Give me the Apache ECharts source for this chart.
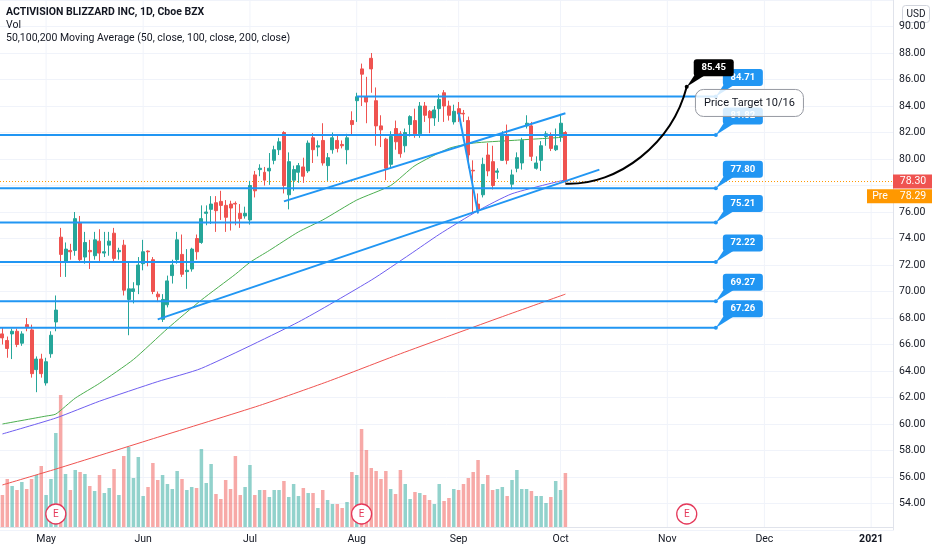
<!DOCTYPE html>
<html><head><meta charset="utf-8">
<script src="https://cdn.jsdelivr.net/npm/echarts@6/dist/echarts.min.js"></script>
<style>html,body{margin:0;padding:0;background:#fff}#c{width:932px;height:550px}</style>
</head><body><div id="c"></div>
<script>
// ---------- data ----------
const firstDay = '2020-04-20', lastDay = '2021-01-08';
const holidays = ['2020-05-25','2020-07-03','2020-09-07','2020-11-26','2020-12-25','2021-01-01'];
const tickDates = ['2020-05-01','2020-06-01','2020-07-01','2020-08-03','2020-09-01','2020-10-01','2020-11-02','2020-12-01','2021-01-04'];
const tickLabels = ['May','Jun','Jul','Aug','Sep','Oct','Nov','Dec','2021'];

// [open, close, low, high] from 2020-04-20 to 2020-10-02
const candles = [
[66.8,66.5,66.0,67.3],[66.3,65.7,65.0,66.6],[66.8,67.0,64.9,67.2],[67.0,66.0,65.8,67.2],[66.1,66.8,65.9,67.0],
[67.5,67.3,67.0,68.0],[67.1,63.8,63.5,67.5],[64.1,64.9,62.4,65.1],[64.9,63.8,63.5,65.3],[63.1,64.7,62.9,65.0],
[65.3,66.7,65.0,67.0],[67.7,68.6,67.0,69.7],[74.1,72.8,71.1,74.8],[72.2,73.2,71.1,73.7],[73.1,73.0,72.4,73.6],
[73.1,75.5,72.7,76.0],[75.2,72.4,72.2,75.7],[72.6,73.7,72.1,74.5],[73.1,73.0,71.7,73.9],[72.7,73.9,72.4,74.5],
[73.8,72.9,72.2,74.7],[72.9,73.0,72.6,74.5],[73.5,73.8,72.7,74.5],[74.4,72.5,72.3,74.8],[73.0,73.1,72.4,73.3],
[73.5,70.1,69.7,73.9],[69.4,70.2,66.7,72.2],[70.0,70.2,69.1,70.7],[70.5,72.0,69.8,72.6],[72.1,73.0,71.6,73.9],
[73.05,73.0,71.9,73.1],[72.4,70.0,69.8,72.6],[69.8,69.6,69.2,70.0],[67.9,69.4,67.7,69.8],[69.0,70.8,68.8,71.2],
[71.2,72.0,70.6,72.4],[72.4,73.9,72.1,74.5],[72.8,71.3,71.1,74.3],[71.5,71.6,70.2,73.2],[71.7,73.2,71.5,73.3],
[74.0,73.0,72.4,74.3],[73.7,75.5,73.6,76.5],[75.9,76.0,75.0,76.5],[76.2,76.6,75.1,77.2],[76.7,76.1,74.5,77.2],
[76.8,76.5,75.4,77.6],[76.5,75.6,74.5,76.9],[76.6,76.3,74.6,76.85],[76.65,76.6,75.0,76.8],[75.9,75.5,74.8,76.6],
[75.7,75.9,75.5,76.4],[75.4,78.0,75.05,78.35],[78.8,77.6,77.1,79.1],[79.2,79.3,78.7,79.6],[79.0,78.4,78.0,79.4],
[79.1,79.3,78.05,80.45],[79.9,80.7,79.6,81.0],[80.7,81.3,80.3,81.6],[82.0,78.0,77.4,82.1],[77.3,79.8,76.2,80.5],
[78.4,79.2,77.6,79.5],[79.0,79.5,78.2,79.7],[79.4,78.7,78.2,80.1],[79.1,81.2,78.95,81.4],[81.6,80.7,79.7,81.95],
[80.9,81.0,80.2,81.4],[81.4,79.7,79.5,82.7],[79.5,80.1,78.35,80.45],[80.7,81.6,80.4,82.0],[81.4,80.8,80.5,81.8],
[81.1,81.0,80.8,81.4],[80.7,81.6,79.6,81.9],[82.9,82.6,81.8,83.6],[84.4,84.7,82.8,85.0],[86.8,86.4,84.0,87.2],
[84.7,84.3,82.7,86.2],[87.6,86.8,85.0,88.0],[84.4,82.5,81.0,85.4],[82.5,82.2,80.9,83.3],[81.5,79.3,78.4,81.6],
[79.6,81.7,79.3,82.1],[82.3,81.3,80.7,82.9],[81.9,80.4,80.1,82.1],[81.0,82.0,80.5,82.3],[82.6,83.2,81.7,83.3],
[82.9,81.9,81.6,83.8],[81.9,84.0,81.6,84.3],[84.0,83.3,82.8,84.3],[83.6,83.1,81.95,83.7],[83.1,83.7,82.5,84.0],
[83.8,84.5,82.8,84.9],[85.0,84.0,82.8,85.2],[84.0,83.3,82.9,84.4],[82.8,83.6,82.6,84.1],[83.8,83.4,82.8,84.3],
[83.45,83.4,82.8,83.7],[82.9,80.3,79.3,83.2],[79.15,79.1,75.9,79.9],[76.6,76.2,75.9,77.4],[77.3,79.6,77.1,80.1],
[80.3,79.1,78.7,81.2],[79.8,78.0,77.7,81.0],[79.0,79.1,78.5,79.3],[79.9,81.8,79.85,82.1],[81.8,79.9,79.6,82.6],
[78.1,78.8,77.7,79.2],[79.3,80.1,79.0,80.5],[79.7,81.4,79.2,81.6],[82.5,82.7,82.3,83.3],[82.5,80.2,79.85,82.8],
[79.3,79.7,79.2,80.2],[79.9,81.0,79.1,81.35],[81.7,81.9,81.0,82.1],[81.8,80.8,80.6,82.0],[80.7,81.0,80.6,82.3],
[81.7,82.7,81.3,83.4],[82.0,78.3,78.2,82.1]
];
// volume in millions
const volumes = [
6.4,9.6,8.2,7.4,9.0,7.6,9.6,10.4,12.2,6.4,
9.6,18.8,26.4,10.6,7.4,11.4,11.0,10.6,8.2,7.2,
10.4,6.8,7.8,11.6,6.4,14.2,16.0,9.8,14.0,6.2,
8.0,12.8,9.4,10.4,8.6,7.6,11.2,9.6,7.4,8.0,
7.8,15.6,8.8,12.6,6.6,5.6,9.4,7.6,14.2,6.4,
8.0,12.4,6.4,7.4,7.4,6.0,7.4,7.4,9.2,6.0,
8.6,6.2,7.8,6.8,6.8,3.8,7.4,5.4,4.6,4.6,
3.8,5.0,11.0,10.4,19.6,15.4,11.8,11.2,9.6,11.2,
7.6,6.6,11.4,8.6,5.6,7.0,6.8,6.4,5.4,4.6,
8.6,5.2,5.8,7.6,7.4,8.6,9.8,11.0,13.4,8.6,
10.4,7.4,7.6,8.0,6.2,9.4,11.4,7.6,7.6,7.2,
6.2,6.2,4.8,6.0,9.2,7.4,10.8
];
// moving averages at selected dates
const ma50Pts = [['2020-04-20',60.0],['2020-05-01',60.6],['2020-05-05',60.75],['2020-05-11',61.95],['2020-05-18',63.07],
['2020-05-28',64.87],['2020-06-08',67.2],['2020-06-17',69.36],['2020-06-26',71.3],['2020-07-01',72.2],['2020-07-08',73.1],
['2020-07-16',74.5],['2020-07-23',75.4],['2020-08-03',76.9],['2020-08-12',78.0],['2020-08-19',79.5],['2020-08-28',80.8],
['2020-09-04',81.2],['2020-09-17',81.4],['2020-10-02',81.65]];
const ma100Pts = [['2020-04-20',59.25],['2020-05-05',60.45],['2020-05-18',61.72],['2020-06-04',63.2],['2020-06-17',64.2],
['2020-07-16',67.7],['2020-08-06',70.86],['2020-08-18',72.81],['2020-08-26',74.31],['2020-09-08',76.1],['2020-09-17',77.38],
['2020-10-02',78.43]];
const ma200Pts = [['2020-04-20',55.4],['2020-05-05',56.6],['2020-06-04',59.0],['2020-07-06',61.4],['2020-07-24',63.2],
['2020-08-14',65.3],['2020-09-15',68.1],['2020-10-02',69.8]];

// drawings
const levelValues = [84.71, 81.82, 77.80, 75.21, 72.22, 69.27, 67.26];
const levelStarts = ['2020-08-03','2020-04-20','2020-04-20','2020-04-20','2020-04-20','2020-04-20','2020-04-20'];
const levelEnd = '2020-11-16';
const trendStarts = ['2020-06-04','2020-07-13','2020-09-01'];
const trendStartVals = [67.9, 76.8, 83.5];
const trendEnds = ['2020-10-13','2020-10-02','2020-09-08'];
const trendEndVals = [79.2, 83.45, 75.9];
const curveDates = ['2020-10-02','2020-10-19','2020-11-03','2020-11-06'];
const curveVals = [78.13, 77.98, 81.2, 85.45];
const targetDate = '2020-11-06', targetValue = 85.45;
const noteDate = '2020-11-10', noteValue = 84.23, noteText = 'Price Target 10/16';
const earningsDates = ['2020-05-05','2020-08-04','2020-11-06'];
const lastPrice = 78.30, prePrice = 78.29;

// ---------- build ----------
function tradingDays(start, end, hol) {
  const out = []; const d = new Date(start + 'T00:00:00Z'); const e = new Date(end + 'T00:00:00Z');
  while (d <= e) {
    const wd = d.getUTCDay(); const s = d.toISOString().slice(0, 10);
    if (wd !== 0 && wd !== 6 && hol.indexOf(s) < 0) out.push(s);
    d.setUTCDate(d.getUTCDate() + 1);
  }
  return out;
}
const dates = tradingDays(firstDay, lastDay, holidays);
const idx = d => dates.indexOf(d);
const FF = 'Roboto, "Liberation Sans", sans-serif';
const TXT = '#131722';
const BLUE = '#2196f3';

const volData = volumes.map((v, i) => ({
  value: v,
  itemStyle: { color: candles[i][1] >= candles[i][0] ? 'rgba(38,166,154,0.5)' : 'rgba(239,83,80,0.5)' }
}));

function callout(fill) {
  return function (params, api) {
    const a = api.coord([api.value(0), api.value(1)]);
    const t = api.value(1).toFixed(2);
    return { type: 'group', children: [
      { type: 'polygon', shape: { points: [[a[0], a[1]], [a[0] + 8, a[1] - 12], [a[0] + 19, a[1] - 12]] }, style: { fill: fill } },
      { type: 'circle', shape: { cx: a[0], cy: a[1], r: 2 }, style: { fill: fill } },
      { type: 'rect', shape: { x: a[0] + 7, y: a[1] - 27.5, width: 40, height: 17, r: 3 }, style: { fill: fill } },
      { type: 'text', style: { x: a[0] + 27, y: a[1] - 19, text: t, fill: '#fff', font: 'bold 9.5px ' + FF, align: 'center', verticalAlign: 'middle' } }
    ]};
  };
}

const option = {
  animation: false,
  backgroundColor: '#ffffff',
  grid: [
    { left: 0, right: 39, top: -4, bottom: 20 },
    { left: 0, right: 39, top: 380, bottom: 23 }
  ],
  xAxis: [
    { type: 'category', gridIndex: 0, data: dates, boundaryGap: true, show: false },
    { type: 'category', gridIndex: 1, data: dates, boundaryGap: true,
      axisLine: { show: true, lineStyle: { color: '#e0e3eb' } },
      axisTick: { show: false }, splitLine: { show: false },
      axisLabel: {
        interval: (i, v) => tickDates.indexOf(v) >= 0,
        formatter: v => { const k = tickDates.indexOf(v); const s = tickLabels[k]; return /^\d+$/.test(s) ? '{b|' + s + '}' : s; },
        color: TXT, fontSize: 10.5, fontFamily: FF, margin: 7,
        rich: { b: { fontWeight: 'bold', fontSize: 10.5, fontFamily: FF, color: TXT } }
      } }
  ],
  yAxis: [
    { type: 'value', gridIndex: 0, position: 'right', min: 52, max: 92, interval: 2,
      axisLine: { show: true, lineStyle: { color: '#e0e3eb' } }, axisTick: { show: false },
      splitLine: { show: true, lineStyle: { color: '#f0f3fa', width: 1 } },
      axisLabel: { formatter: v => v.toFixed(2), color: TXT, fontSize: 10.5, fontFamily: FF, margin: 6, showMinLabel: false, showMaxLabel: false } },
    { type: 'value', gridIndex: 1, min: 0, max: 29.4, show: false, splitLine: { show: false } }
  ],
  graphic: [
    { type: 'text', left: 6, top: 7, z: 100, style: { text: 'ACTIVISION BLIZZARD INC, 1D, Cboe BZX', font: 'bold 10.5px ' + FF, fill: TXT } },
    { type: 'text', left: 6, top: 20, z: 100, style: { text: 'Vol', font: '10.5px ' + FF, fill: TXT } },
    { type: 'text', left: 6, top: 33, z: 100, style: { text: '50,100,200 Moving Average (50, close, 100, close, 200, close)', font: '10.5px ' + FF, fill: TXT } },
    { type: 'group', left: 902, top: 5, z: 100, children: [
      { type: 'rect', shape: { x: 0, y: 0, width: 27, height: 17, r: 3 }, style: { fill: '#fff', stroke: '#d1d4dc', lineWidth: 1 } },
      { type: 'text', style: { x: 13.5, y: 9, text: 'USD', align: 'center', verticalAlign: 'middle', font: '10px ' + FF, fill: TXT } }
    ] }
  ],
  series: [
    { name: 'vgrid', type: 'custom', xAxisIndex: 0, yAxisIndex: 0, z: 1, silent: true,
      data: tickDates.map(d => [idx(d), 70]), encode: { x: 0, y: 1 },
      renderItem: (params, api) => {
        const a = api.coord([api.value(0), api.value(1)]); const cs = params.coordSys;
        return { type: 'line', shape: { x1: a[0], y1: cs.y, x2: a[0], y2: 527 }, style: { stroke: '#f0f3fa', lineWidth: 1 } };
      } },
    { name: 'Vol', type: 'bar', xAxisIndex: 1, yAxisIndex: 1, data: volData, barWidth: '72%', z: 1, silent: true },
    { name: 'MA200', type: 'line', xAxisIndex: 0, yAxisIndex: 0, data: ma200Pts, showSymbol: false, smooth: 0.2, lineStyle: { color: '#f05350', width: 1 }, z: 2, silent: true },
    { name: 'MA100', type: 'line', xAxisIndex: 0, yAxisIndex: 0, data: ma100Pts, showSymbol: false, smooth: 0.2, lineStyle: { color: '#6f5ef0', width: 1 }, z: 2, silent: true },
    { name: 'MA50', type: 'line', xAxisIndex: 0, yAxisIndex: 0, data: ma50Pts, showSymbol: false, smooth: 0.2, lineStyle: { color: '#4caf50', width: 1 }, z: 2, silent: true },
    { name: 'ATVI', type: 'candlestick', xAxisIndex: 0, yAxisIndex: 0, data: candles, barWidth: '72%', z: 3, silent: true,
      itemStyle: { color: '#26a69a', color0: '#ef5350', borderColor: '#26a69a', borderColor0: '#ef5350', borderWidth: 1 } },
    { name: 'pricelines', type: 'custom', xAxisIndex: 0, yAxisIndex: 0, z: 3, silent: true,
      data: [[idx(dates[dates.length - 1]), lastPrice]], encode: { x: 0, y: 1 },
      renderItem: (params, api) => {
        const a = api.coord([api.value(0), api.value(1)]); const cs = params.coordSys;
        return { type: 'line', shape: { x1: cs.x, y1: a[1], x2: cs.x + cs.width, y2: a[1] }, style: { stroke: '#ff9800', lineWidth: 1, lineDash: [1, 2] } };
      } },
    { name: 'levels', type: 'custom', xAxisIndex: 0, yAxisIndex: 0, z: 4, silent: true,
      data: levelValues.map((v, k) => [idx(levelStarts[k]), idx(levelEnd), v]), encode: { x: [0, 1], y: 2 },
      renderItem: (params, api) => {
        const a = api.coord([api.value(0), api.value(2)]); const b = api.coord([api.value(1), api.value(2)]);
        const x1 = api.value(0) === 0 ? params.coordSys.x : a[0];
        return { type: 'line', shape: { x1: x1, y1: a[1], x2: b[0], y2: b[1] }, style: { stroke: BLUE, lineWidth: 2 } };
      } },
    { name: 'trends', type: 'custom', xAxisIndex: 0, yAxisIndex: 0, z: 4, silent: true,
      data: trendStarts.map((d, k) => [idx(d), trendStartVals[k], idx(trendEnds[k]), trendEndVals[k]]), encode: { x: [0, 2], y: [1, 3] },
      renderItem: (params, api) => {
        const a = api.coord([api.value(0), api.value(1)]); const b = api.coord([api.value(2), api.value(3)]);
        return { type: 'line', shape: { x1: a[0], y1: a[1], x2: b[0], y2: b[1] }, style: { stroke: BLUE, lineWidth: 2 } };
      } },
    { name: 'levelLabels', type: 'custom', xAxisIndex: 0, yAxisIndex: 0, z: 5, silent: true,
      data: levelValues.map(v => [idx(levelEnd), v]), encode: { x: 0, y: 1 }, renderItem: callout(BLUE) },
    { name: 'curve', type: 'custom', xAxisIndex: 0, yAxisIndex: 0, z: 5, silent: true,
      data: [[idx(curveDates[0]), curveVals[0], idx(curveDates[1]), curveVals[1], idx(curveDates[2]), curveVals[2], idx(curveDates[3]), curveVals[3]]],
      encode: { x: [0, 2, 4, 6], y: [1, 3, 5, 7] },
      renderItem: (params, api) => {
        const p = [0, 1, 2, 3].map(k => api.coord([api.value(2 * k), api.value(2 * k + 1)]));
        return { type: 'bezierCurve', shape: { x1: p[0][0], y1: p[0][1], cpx1: p[1][0], cpy1: p[1][1], cpx2: p[2][0], cpy2: p[2][1], x2: p[3][0], y2: p[3][1] },
          style: { stroke: '#000', lineWidth: 2, fill: null } };
      } },
    { name: 'target', type: 'custom', xAxisIndex: 0, yAxisIndex: 0, z: 6, silent: true,
      data: [[idx(targetDate), targetValue]], encode: { x: 0, y: 1 }, renderItem: callout('#000000') },
    { name: 'note', type: 'custom', xAxisIndex: 0, yAxisIndex: 0, z: 7, silent: true,
      data: [[idx(noteDate), noteValue]], encode: { x: 0, y: 1 },
      renderItem: (params, api) => {
        const a = api.coord([api.value(0), api.value(1)]);
        return { type: 'group', children: [
          { type: 'rect', shape: { x: a[0] - 1, y: a[1] - 13.5, width: 108, height: 27, r: 8 }, style: { fill: 'rgba(255,255,255,0.82)', stroke: '#9598a1', lineWidth: 1 } },
          { type: 'text', style: { x: a[0] + 53, y: a[1] + 0.5, text: noteText, align: 'center', verticalAlign: 'middle', font: '11px ' + FF, fill: TXT } }
        ]};
      } },
    { name: 'earnings', type: 'custom', xAxisIndex: 1, yAxisIndex: 1, z: 6, silent: true,
      data: earningsDates.map(d => [idx(d), 0]), encode: { x: 0, y: 1 },
      renderItem: (params, api) => {
        const a = api.coord([api.value(0), 0]);
        return { type: 'group', children: [
          { type: 'circle', shape: { cx: a[0], cy: a[1] - 13, r: 10 }, style: { fill: '#fff', stroke: '#e5395a', lineWidth: 1.3 } },
          { type: 'text', style: { x: a[0], y: a[1] - 12.5, text: 'E', align: 'center', verticalAlign: 'middle', font: '10px ' + FF, fill: '#e5395a' } }
        ]};
      } },
    { name: 'tags', type: 'custom', xAxisIndex: 0, yAxisIndex: 0, z: 8, silent: true,
      data: [[idx(dates[dates.length - 1]), lastPrice, prePrice]], encode: { x: 0, y: [1, 2] },
      renderItem: (params, api) => {
        const cs = params.coordSys; const R = cs.x + cs.width;
        const y1 = api.coord([api.value(0), api.value(1)])[1];
        const y2 = api.coord([api.value(0), api.value(2)])[1] + 14.5;
        return { type: 'group', children: [
          { type: 'rect', shape: { x: R, y: y1 - 7, width: 39, height: 14 }, style: { fill: '#ef5350' } },
          { type: 'text', style: { x: R + 20, y: y1, text: api.value(1).toFixed(2), align: 'center', verticalAlign: 'middle', font: '10.5px ' + FF, fill: '#fff' } },
          { type: 'rect', shape: { x: R - 26, y: y2 - 7, width: 65, height: 14 }, style: { fill: '#ff9800' } },
          { type: 'text', style: { x: R - 13, y: y2, text: 'Pre', align: 'center', verticalAlign: 'middle', font: '10.5px ' + FF, fill: '#fff' } },
          { type: 'text', style: { x: R + 20, y: y2, text: api.value(2).toFixed(2), align: 'center', verticalAlign: 'middle', font: '10.5px ' + FF, fill: '#fff' } }
        ]};
      } }
  ]
};
const chart = echarts.init(document.getElementById('c'), null, { renderer: 'canvas' });
chart.setOption(option);
</script>
</body></html>
